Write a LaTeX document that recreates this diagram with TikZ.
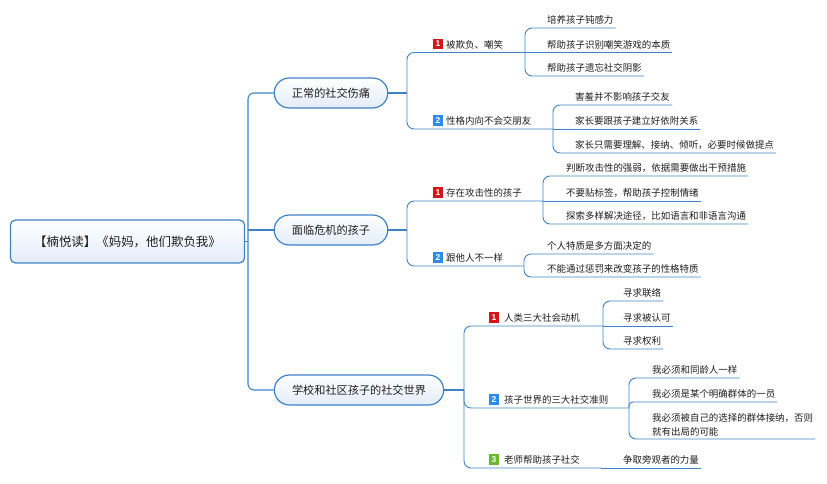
\documentclass[tikz,border=0pt]{standalone}
\usepackage{fontspec}
\setmainfont{Noto Sans CJK SC}
\newfontfamily\numfont{Liberation Sans}
\definecolor{lnblue}{HTML}{3F82C6}
\definecolor{fillblue}{HTML}{E2ECF8}
\definecolor{icored}{HTML}{D7141A}
\definecolor{icoblue}{HTML}{2D8CEB}
\definecolor{icogreen}{HTML}{6BB82A}
\definecolor{txt}{HTML}{1E1E1E}

\begin{document}
\begin{tikzpicture}[x=1bp,y=-1bp,
  topic/.style={draw=lnblue,line width=1.2pt,top color=white,bottom color=fillblue,text=txt,inner sep=0pt},
  leaf/.style={anchor=south west,inner xsep=2pt,inner ysep=2.4pt,text height=7.5pt,text depth=1.5pt,text=txt,font=\fontsize{9.5}{14}\selectfont},
  ico/.style={fill=#1,text=white,minimum size=10.5bp,inner sep=0pt,font=\numfont\bfseries\fontsize{8.5}{9}\selectfont},
  trunk/.style={draw=lnblue,line width=1.1pt,rounded corners=6},
  branch/.style={draw=lnblue,line width=0.9pt,rounded corners=7}]

\useasboundingbox (0,0) rectangle (827,484);

% root and main topics
\node[topic,rounded corners=5,minimum width=235,minimum height=43,font=\fontsize{12.5}{14}\selectfont] (R) at (127.5,241.5) {【楠悦读】《妈妈，他们欺负我》};
\node[topic,rounded corners=15,minimum width=114,minimum height=30,font=\fontsize{11.2}{13}\selectfont] (M1) at (331,93) {正常的社交伤痛};
\node[topic,rounded corners=15,minimum width=114,minimum height=30,font=\fontsize{11.2}{13}\selectfont] (M2) at (331,230) {面临危机的孩子};
\node[topic,rounded corners=15,minimum width=170,minimum height=30,font=\fontsize{11.2}{13}\selectfont] (M3) at (359,390) {学校和社区孩子的社交世界};

\coordinate (RJ) at (248,230);
\coordinate (J1) at (407,93);
\coordinate (J2) at (407,230);
\coordinate (J3) at (464,390);

\draw[trunk] (R.east) -- (R.east -| RJ);
\draw[trunk] (RJ) |- (M1.west);
\draw[trunk] (RJ) -- (M2.west);
\draw[trunk] (RJ) |- (M3.west);
\draw[trunk] (M1.east) -- (J1);
\draw[trunk] (M2.east) -- (J2);
\draw[trunk] (M3.east) -- (J3);

% first level
\node[ico=icored] (I1) at (438,44) {1};
\node[leaf] (A1) at (444,52.5) {被欺负、嘲笑};
\coordinate (A1J) at (525,52.5);
\node[ico=icoblue] (I2) at (438,120.5) {2};
\node[leaf] (A2) at (444,129) {性格内向不会交朋友};
\coordinate (A2J) at (553,129);
\node[ico=icored] (I3) at (438,192.5) {1};
\node[leaf] (A3) at (444,201) {存在攻击性的孩子};
\coordinate (A3J) at (543,201);
\node[ico=icoblue] (I4) at (438,257.5) {2};
\node[leaf] (A4) at (444,266) {跟他人不一样};
\coordinate (A4J) at (524,266);
\node[ico=icored] (I5) at (494,317.5) {1};
\node[leaf] (A5) at (502,326) {人类三大社会动机};
\coordinate (A5J) at (603,326);
\node[ico=icoblue] (I6) at (494,399.5) {2};
\node[leaf] (A6) at (502,408) {孩子世界的三大社交准则};
\coordinate (A6J) at (629,408);
\node[ico=icogreen] (I7) at (494,459.5) {3};
\node[leaf] (A7) at (502,468) {老师帮助孩子社交};
\coordinate (A7J) at (601,468);

\draw[branch] (J1) |- (A1.south west) -- (A1J);
\draw[branch] (J1) |- (A2.south west) -- (A2J);
\draw[branch] (J2) |- (A3.south west) -- (A3J);
\draw[branch] (J2) |- (A4.south west) -- (A4J);
\draw[branch] (J3) |- (A5.south west) -- (A5J);
\draw[branch] (J3) |- (A6.south west) -- (A6J);
\draw[branch] (J3) |- (A7.south west) -- (A7J);

% second level
\node[leaf] (B11) at (545,28) {培养孩子钝感力};
\node[leaf] (B12) at (545,52.5) {帮助孩子识别嘲笑游戏的本质};
\node[leaf] (B13) at (545,76) {帮助孩子遗忘社交阴影};
\node[leaf] (B21) at (573,105) {害羞并不影响孩子交友};
\node[leaf] (B22) at (573,129) {家长要跟孩子建立好依附关系};
\node[leaf] (B23) at (573,153) {家长只需要理解、接纳、倾听，必要时候做提点};
\node[leaf] (B31) at (564,176) {判断攻击性的强弱，依据需要做出干预措施};
\node[leaf] (B32) at (564,201) {不要贴标签，帮助孩子控制情绪};
\node[leaf] (B33) at (564,224) {探索多样解决途径，比如语言和非语言沟通};
\node[leaf] (B41) at (545,254) {个人特质是多方面决定的};
\node[leaf] (B42) at (545,277) {不能通过惩罚来改变孩子的性格特质};
\node[leaf] (B51) at (621,301) {寻求联络};
\node[leaf] (B52) at (621,326) {寻求被认可};
\node[leaf] (B53) at (621,349) {寻求权利};
\node[leaf] (B61) at (650,378) {我必须和同龄人一样};
\node[leaf] (B62) at (650,402) {我必须是某个明确群体的一员};
\node[leaf,align=left,text height=,text depth=] (B63) at (650,439) {我必须被自己的选择的群体接纳，否则\\就有出局的可能};
\node[leaf] (B71) at (621,468) {争取旁观者的力量};

\draw[branch] (A1J) |- (B11.south west) -- (B11.south east);
\draw[branch] (A1J) -- (B12.south east);
\draw[branch] (A1J) |- (B13.south west) -- (B13.south east);
\draw[branch] (A2J) |- (B21.south west) -- (B21.south east);
\draw[branch] (A2J) -- (B22.south east);
\draw[branch] (A2J) |- (B23.south west) -- (B23.south east);
\draw[branch] (A3J) |- (B31.south west) -- (B31.south east);
\draw[branch] (A3J) -- (B32.south east);
\draw[branch] (A3J) |- (B33.south west) -- (B33.south east);
\draw[branch] (A4J) |- (B41.south west) -- (B41.south east);
\draw[branch] (A4J) |- (B42.south west) -- (B42.south east);
\draw[branch] (A5J) |- (B51.south west) -- (B51.south east);
\draw[branch] (A5J) -- (B52.south east);
\draw[branch] (A5J) |- (B53.south west) -- (B53.south east);
\draw[branch] (A6J) |- (B61.south west) -- (B61.south east);
\draw[branch,rounded corners=4] (A6J) |- (B62.south west) -- (B62.south east);
\draw[branch] (A6J) |- (B63.south west) -- (B63.south east);
\draw[branch] (A7J) -- (B71.south east);
\end{tikzpicture}
\end{document}
